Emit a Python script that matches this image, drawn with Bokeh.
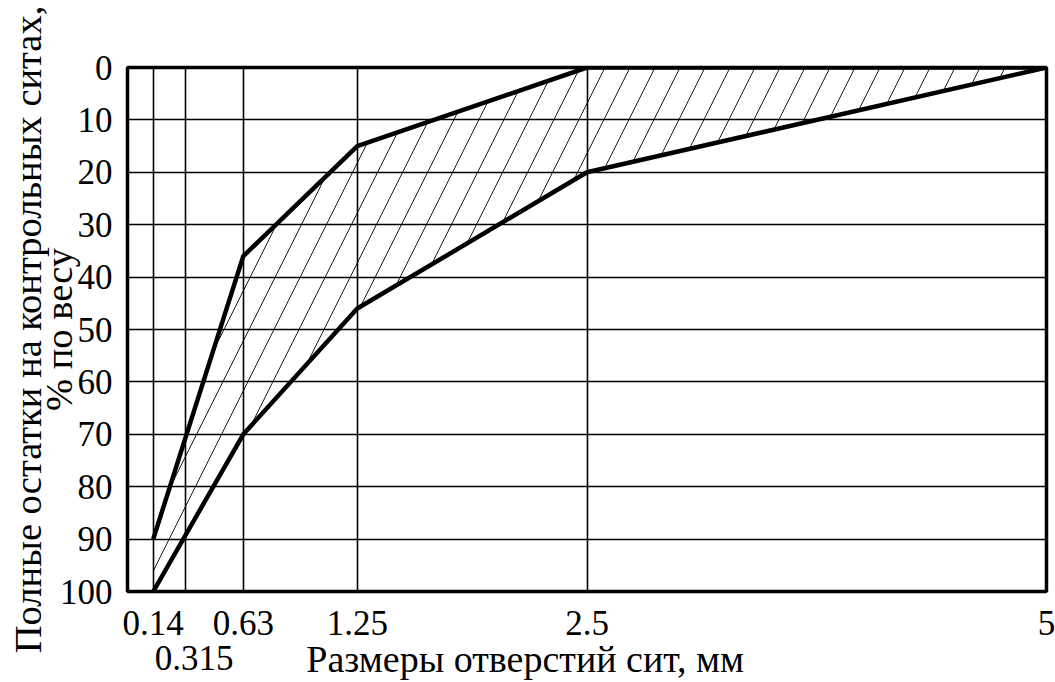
from bokeh.plotting import figure
from bokeh.models import Range1d, FixedTicker
from bokeh.embed import file_html
from bokeh.resources import INLINE

# sieve sizes, mm
sieve_sizes = [0.14, 0.63, 1.25, 2.5, 5]
# upper (fine) boundary: total residue, %
upper_bound = [90, 36, 15, 0, 0]
# lower (coarse) boundary: total residue, %
lower_bound = [100, 70, 46, 20, 0]

x_ticks = [0.14, 0.315, 0.63, 1.25, 2.5, 5]
x_tick_labels = ["0.14", "\n\u00a0\u00a00.315", "0.63", "1.25", "2.5", "5"]
y_ticks = [0, 10, 20, 30, 40, 50, 60, 70, 80, 90, 100]

x_title = "Размеры отверстий сит, мм"
y_title = "Полные остатки на контрольных ситах,\n% по весу"

FONT = "Liberation Serif"

p = figure(width=1055, height=682, output_backend="svg", toolbar_location=None,
           x_range=Range1d(0, 5), y_range=Range1d(100, 0),
           min_border_left=127, min_border_right=9, min_border_top=67, min_border_bottom=88)
p.background_fill_color = "white"
p.border_fill_color = "white"
p.outline_line_color = "black"
p.outline_line_width = 3.5

p.xaxis.ticker = FixedTicker(ticks=x_ticks)
p.yaxis.ticker = FixedTicker(ticks=y_ticks)
p.xaxis.major_label_overrides = {t: s for t, s in zip(x_ticks, x_tick_labels)}
for g in (p.xgrid, p.ygrid):
    g.grid_line_color = "black"
    g.grid_line_width = 1.6
    g.grid_line_alpha = 1.0

for ax in (p.xaxis, p.yaxis):
    ax.axis_line_color = None
    ax.major_tick_line_color = None
    ax.minor_tick_line_color = None
    ax.major_label_text_font = FONT
    ax.major_label_text_font_size = "35px"
    ax.major_label_text_color = "black"
    ax.axis_label_text_font = FONT
    ax.axis_label_text_font_style = "normal"
    ax.axis_label_text_color = "black"

p.yaxis.major_label_standoff = 9
p.xaxis.major_label_standoff = 6
p.xaxis.major_label_text_line_height = 0.9
# trailing no-break spaces shift the centred title to the left, as in the original
p.xaxis.axis_label = x_title + "\u00a0" * 13
p.xaxis.axis_label_text_font_size = "38px"
p.xaxis.axis_label_text_line_height = 1.0
p.xaxis.axis_label_standoff = -43
p.yaxis.axis_label = y_title
p.yaxis.axis_label_text_font_size = "38.5px"
p.yaxis.axis_label_text_line_height = 0.74
p.yaxis.axis_label_standoff = -23

# hatched zone between the boundaries
p.varea(x=sieve_sizes, y1=upper_bound, y2=lower_bound, fill_alpha=0,
        hatch_pattern="/", hatch_color="black", hatch_weight=0.9, hatch_scale=50)
p.line(sieve_sizes, upper_bound, line_color="black", line_width=4.5)
p.line(sieve_sizes, lower_bound, line_color="black", line_width=4.5)

open("out.html", "w").write(file_html(p, INLINE))
